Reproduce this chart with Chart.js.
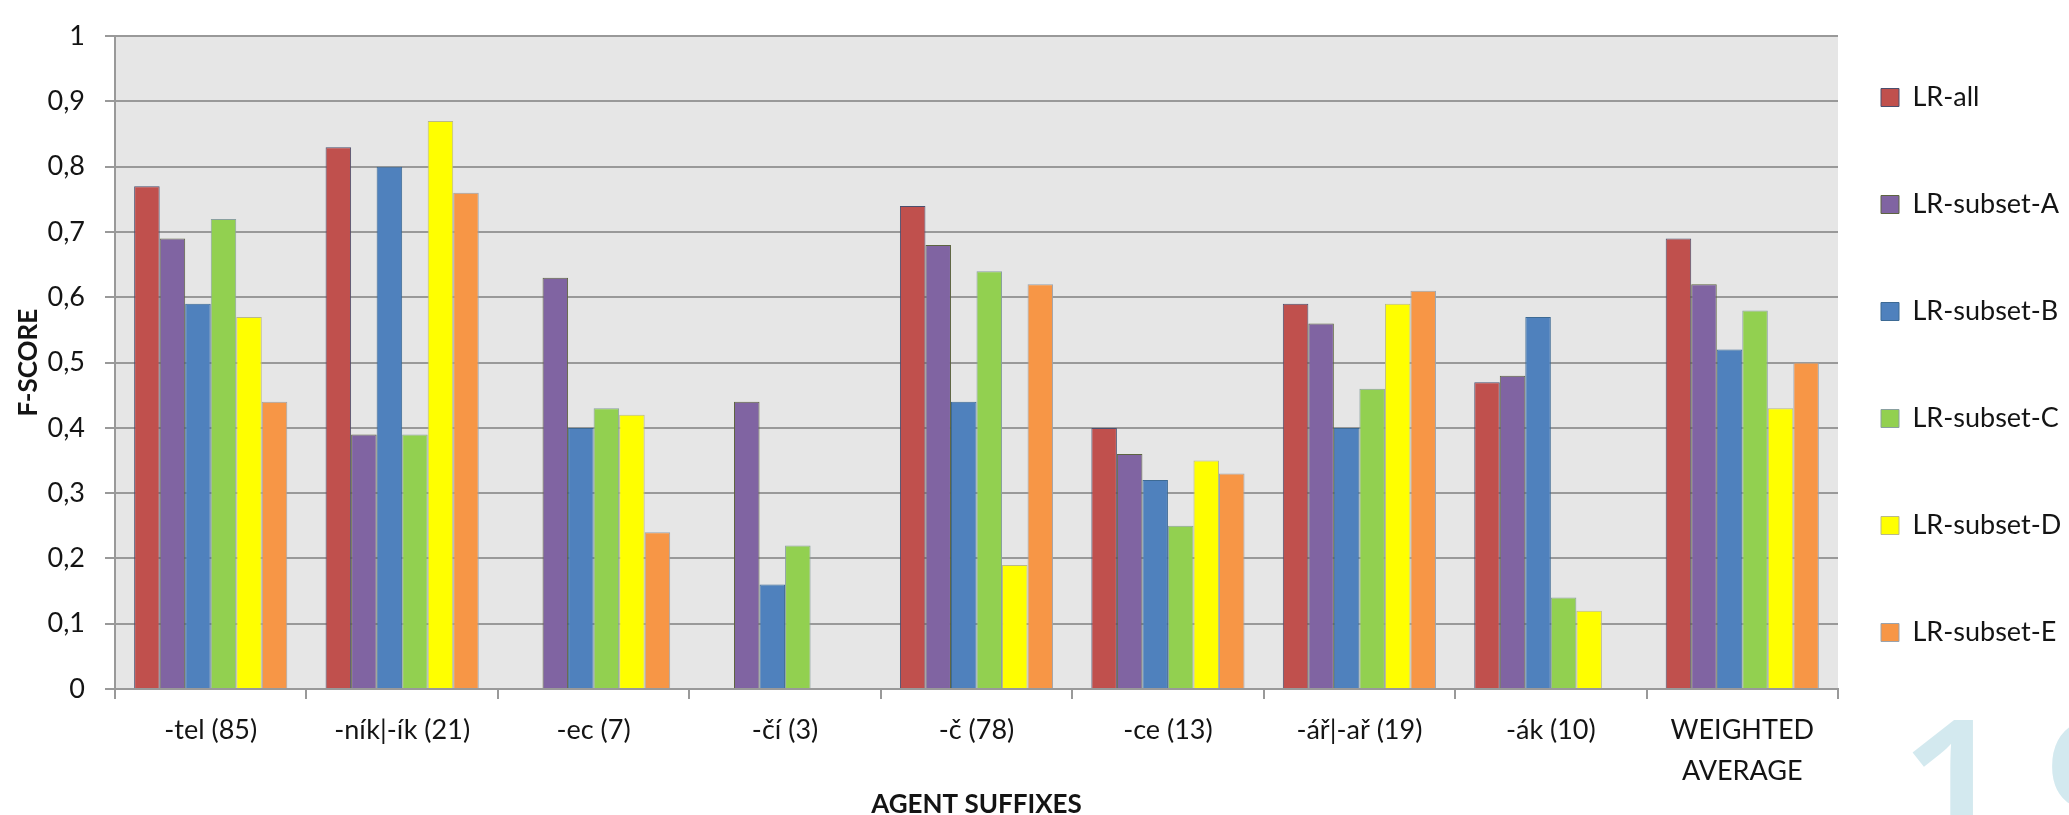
<!DOCTYPE html>
<html>
<head>
<meta charset="utf-8">
<title>F-score by agent suffix</title>
<script src="https://cdn.jsdelivr.net/npm/chart.js@4/dist/chart.umd.min.js"></script>
<style>
  html, body { margin: 0; padding: 0; background: #ffffff; }
  #wrap { position: relative; width: 2069px; height: 815px; }
</style>
</head>
<body>
<div id="wrap"><canvas id="chart"></canvas></div>
<script>
// Agent suffixes (with number of test items) on the category axis
const categories = ['-tel (85)', '-ník|-ík (21)', '-ec (7)', '-čí (3)', '-č (78)', '-ce (13)', '-ář|-ař (19)', '-ák (10)', ['WEIGHTED', 'AVERAGE']];

// F-score of each classifier per suffix (null = no bar)
const lrAll     = [0.77, 0.83, null, null, 0.74, 0.40, 0.59, 0.47, 0.69];
const lrSubsetA = [0.69, 0.39, 0.63, 0.44, 0.68, 0.36, 0.56, 0.48, 0.62];
const lrSubsetB = [0.59, 0.80, 0.40, 0.16, 0.44, 0.32, 0.40, 0.57, 0.52];
const lrSubsetC = [0.72, 0.39, 0.43, 0.22, 0.64, 0.25, 0.46, 0.14, 0.58];
const lrSubsetD = [0.57, 0.87, 0.42, null, 0.19, 0.35, 0.59, 0.12, 0.43];
const lrSubsetE = [0.44, 0.76, 0.24, null, 0.62, 0.33, 0.61, null, 0.50];

const seriesNames = ['LR-all', 'LR-subset-A', 'LR-subset-B', 'LR-subset-C', 'LR-subset-D', 'LR-subset-E'];
const seriesValues = [lrAll, lrSubsetA, lrSubsetB, lrSubsetC, lrSubsetD, lrSubsetE];

// Value axis labels use a decimal comma
const yTickLabels = ['0', '0,1', '0,2', '0,3', '0,4', '0,5', '0,6', '0,7', '0,8', '0,9', '1'];

const fills   = ['#c0504d', '#8064a2', '#4f81bd', '#92d050', '#ffff00', '#f79646'];
const borders = ['#4a4f6e', '#5d6440', '#3d6a94', '#8aa0a0', '#b9b98a', '#9aa3ad'];

const FONT = 'Lato, "Open Sans", sans-serif';
const TEXT = '#141414';
const GRID = '#999999';

// Grey plotting area behind the grid
const plotBackground = {
  id: 'plotBackground',
  beforeDraw(chart) {
    const { ctx, chartArea: a } = chart;
    ctx.save();
    ctx.fillStyle = '#e6e6e6';
    ctx.fillRect(a.left, a.top, a.right - a.left, a.bottom - a.top);
    ctx.restore();
  }
};

// Moves the legend column next to the plot and up to the first entry's row
const legendPlacement = {
  id: 'legendPlacement',
  afterLayout(chart) {
    const lg = chart.legend;
    if (!lg) return;
    lg.left -= 37;
    lg.top -= 14; lg.bottom -= 14;
  }
};

// Slide page number in the lower right corner
const pageNumber = {
  id: 'pageNumber',
  afterDraw(chart) {
    const ctx = chart.ctx;
    ctx.save();
    ctx.fillStyle = '#d3e9ef';
    ctx.font = '600 196px "Open Sans", sans-serif';
    ctx.textBaseline = 'alphabetic';
    ctx.textAlign = 'left';
    ctx.fillText('1', 1898, 860);
    ctx.fillText('9', 2044, 860);
    ctx.restore();
  }
};

Chart.defaults.font.family = FONT;
Chart.defaults.color = TEXT;

new Chart(document.getElementById('chart'), {
  type: 'bar',
  data: {
    labels: categories,
    datasets: seriesNames.map((name, i) => ({
      label: name,
      data: seriesValues[i],
      backgroundColor: fills[i],
      borderColor: borders[i],
      borderWidth: 1,
      categoryPercentage: 0.8,
      barPercentage: 1.0
    }))
  },
  options: {
    responsive: true,
    maintainAspectRatio: false,
    animation: false,
    layout: { padding: { top: 18, left: 0, right: 0, bottom: 0 } },
    plugins: {
      legend: {
        position: 'right',
        align: 'start',
        maxWidth: 231,
        labels: {
          boxWidth: 18,
          boxHeight: 18,
          padding: 80,
          color: TEXT,
          font: { size: 27, family: FONT }
        }
      },
      tooltip: { enabled: false }
    },
    scales: {
      x: {
        grid: {
          display: true,
          drawOnChartArea: false,
          drawTicks: true,
          tickLength: 10,
          color: GRID,
          lineWidth: 2,
          offset: true
        },
        border: { display: true, color: GRID, width: 2 },
        ticks: {
          autoSkip: false,
          maxRotation: 0,
          minRotation: 0,
          padding: 10,
          color: TEXT,
          font: { size: 27, family: FONT, lineHeight: 1.55 }
        },
        title: {
          display: true,
          text: 'AGENT SUFFIXES',
          color: TEXT,
          font: { size: 26, weight: 'bold', family: FONT, lineHeight: 0.8 },
          padding: { top: 0, bottom: 0 }
        },
        afterFit(scale) { scale.height = 126; }
      },
      y: {
        min: 0,
        max: 1,
        grid: {
          color: GRID,
          lineWidth: 2,
          drawTicks: true,
          tickLength: 10
        },
        border: { display: true, color: GRID, width: 2 },
        ticks: {
          stepSize: 0.1,
          padding: 20,
          color: TEXT,
          font: { size: 27, family: FONT },
          callback: (value, index) => yTickLabels[index]
        },
        title: {
          display: true,
          text: 'F-SCORE',
          color: TEXT,
          font: { size: 26, weight: 'bold', family: FONT },
          padding: { top: 13, bottom: 0 }
        },
        afterFit(scale) { scale.width = 115; }
      }
    }
  },
  plugins: [plotBackground, legendPlacement, pageNumber]
});
</script>
</body>
</html>
